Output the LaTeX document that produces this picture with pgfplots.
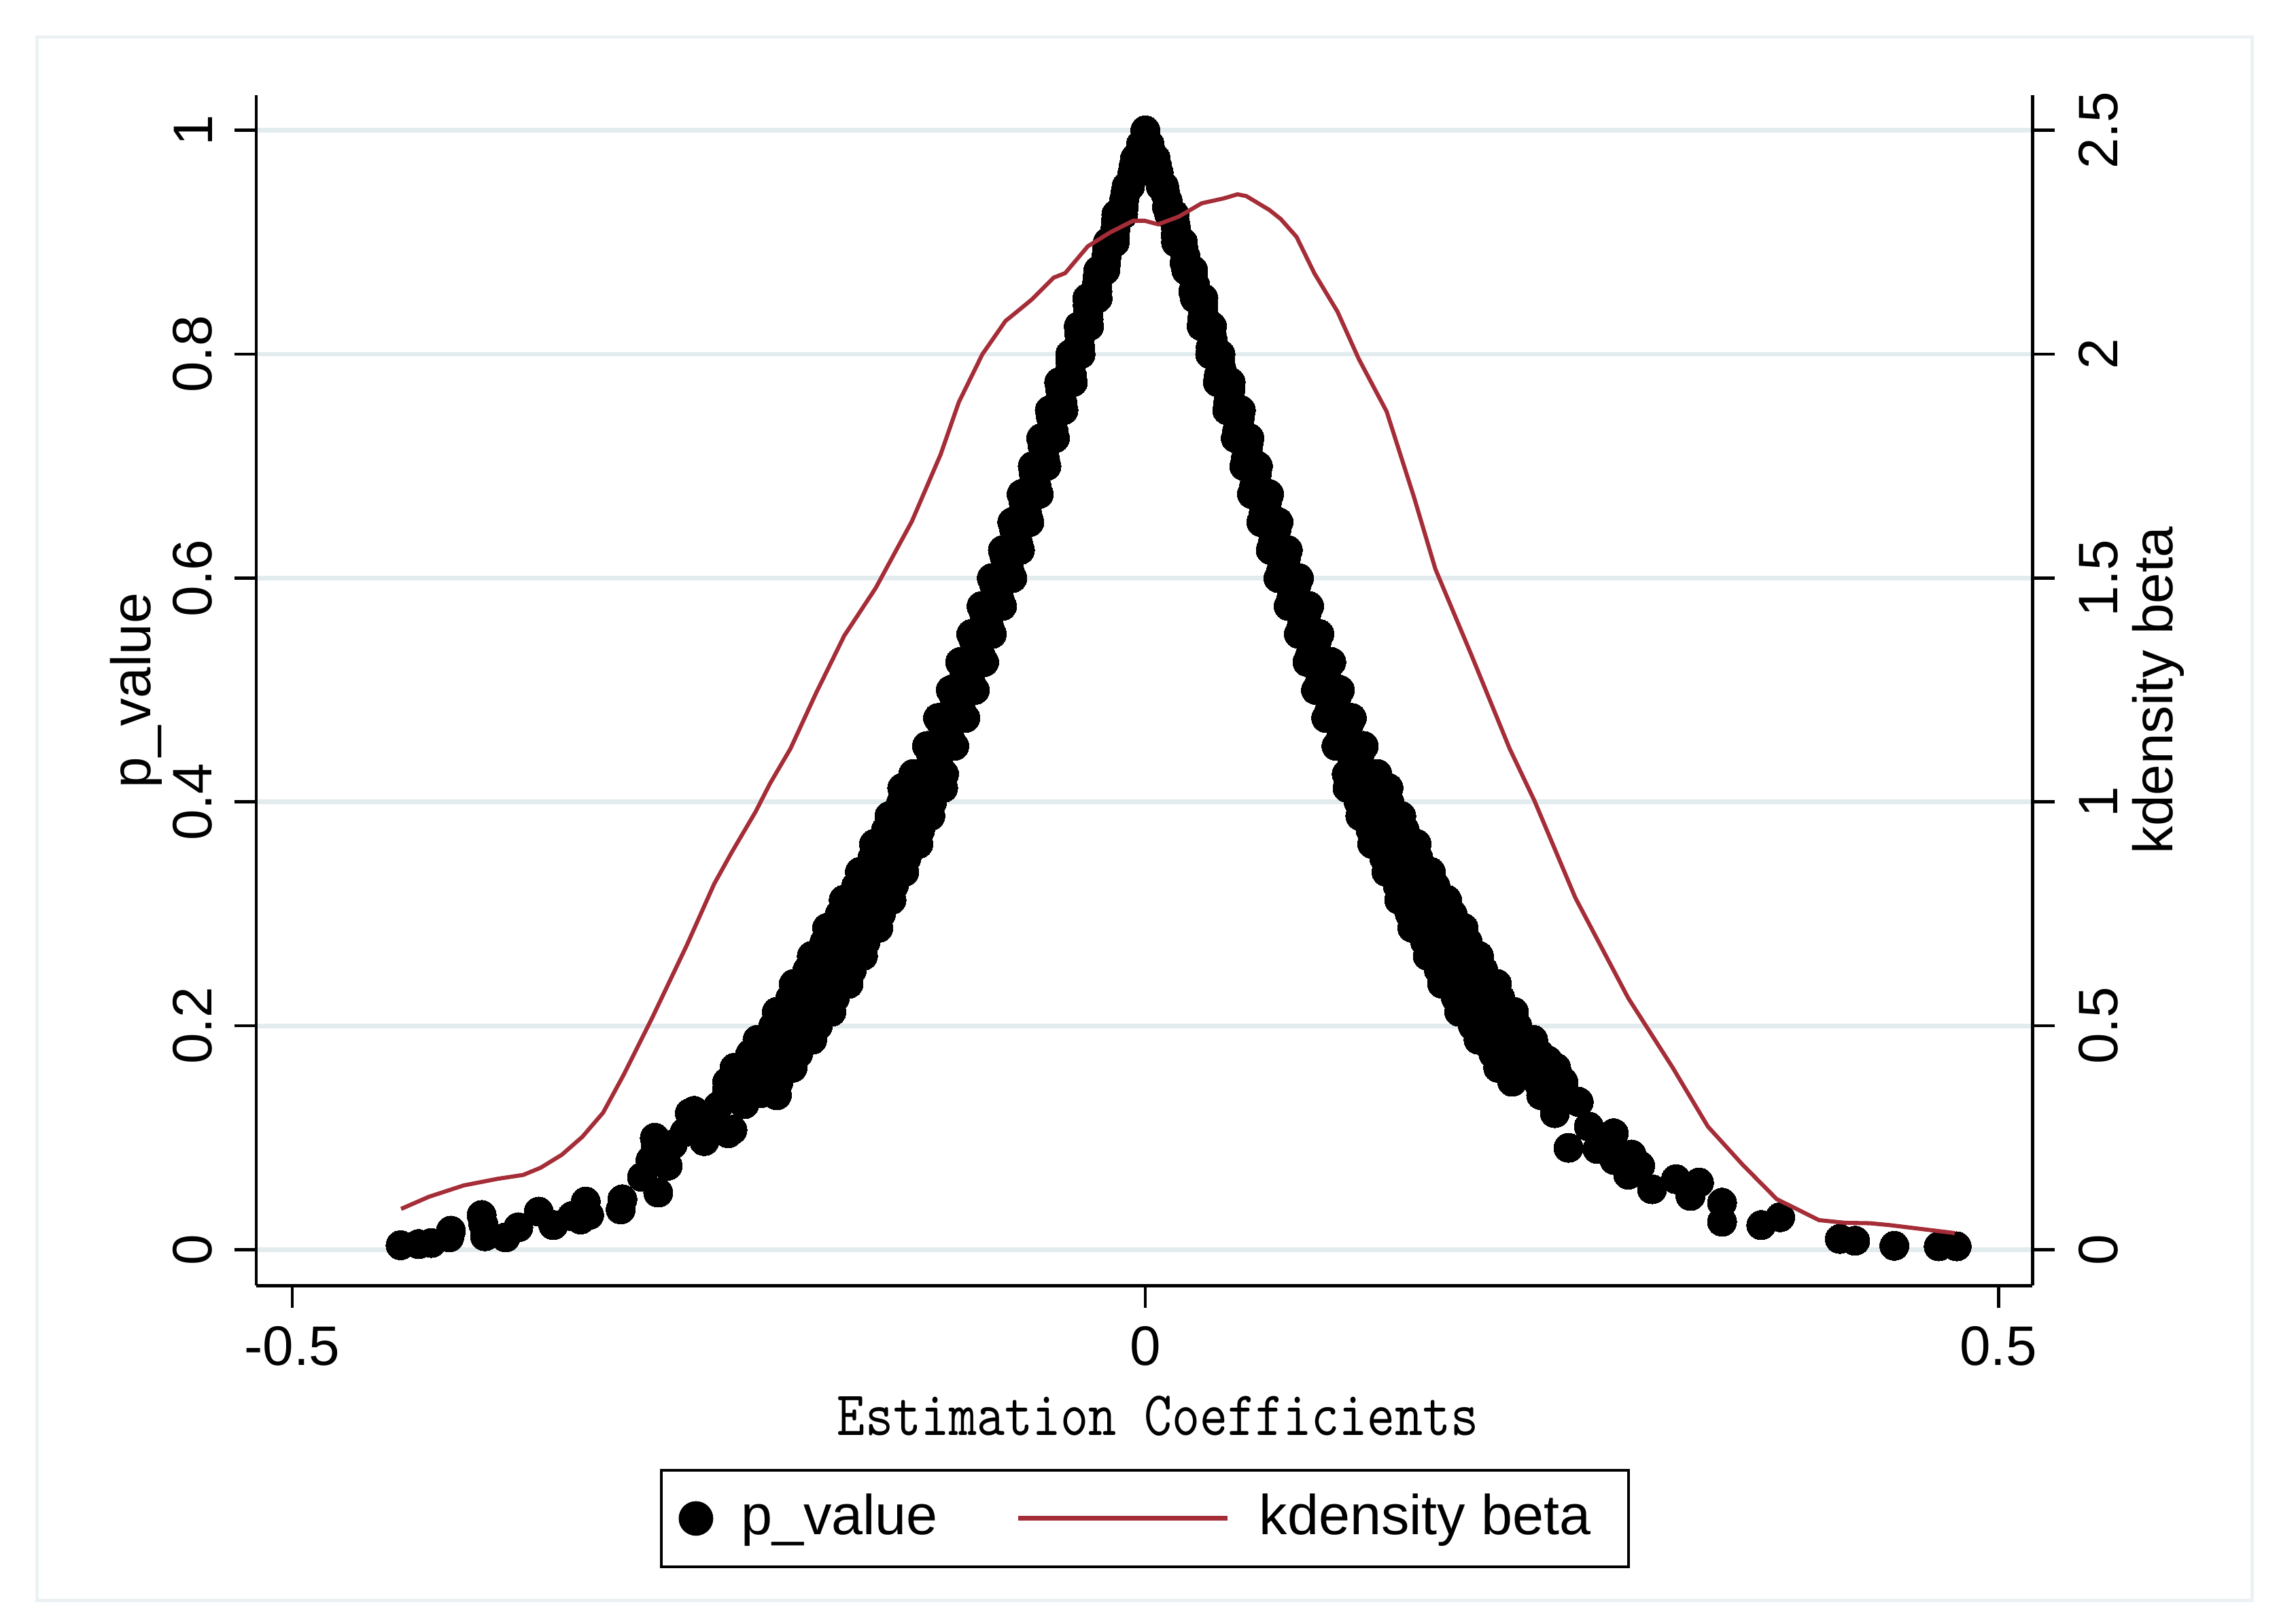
\documentclass[border=0pt]{standalone}
\usepackage{fontspec}
\setmainfont{Liberation Sans}
\usepackage{graphicx}
\usepackage{pgfplots}
\pgfplotsset{compat=1.18}
\definecolor{kd}{RGB}{165,45,55}
\definecolor{gridc}{RGB}{226,236,239}
\definecolor{framec}{RGB}{236,242,244}
\pgfplotsset{
 dotlegend/.style={legend image code/.code={\draw[##1] plot coordinates {(2.7pt,0pt)};}},
 linelegend/.style={legend image code/.code={\draw[##1, line width=0.8pt] (0pt,0pt) -- (35.75pt,0pt);}},
}
\begin{document}
\begin{tikzpicture}
\path[use as bounding box] (-43.75pt,-55.5pt) rectangle (348.25pt,219.5pt);
\draw[framec, line width=0.6pt] (-37.4pt,-53.75pt) rectangle (340.75pt,213.15pt);
\begin{axis}[
 at={(0pt,0pt)}, anchor=south west,
 scale only axis, width=303.25pt, height=203.25pt,
 xmin=-0.5211, xmax=0.5199, ymin=-0.0322, ymax=1.0314,
 axis lines*=left,
 axis line style={line width=0.55pt, black},
 tick align=outside, major tick length=3.75pt,
 tick style={line width=0.55pt, black},
 xtick={-0.5,0,0.5}, xticklabels={-0.5,0,0.5},
 ytick={0,0.2,0.4,0.6,0.8,1}, yticklabels={0,0.2,0.4,0.6,0.8,1},
 ymajorgrids, major grid style={gridc, line width=0.8pt},
 ticklabel style={font=\fontsize{9.5}{11}\selectfont},
 xticklabel style={anchor=north, inner sep=0pt},
 xticklabel shift=3pt,
 yticklabel style={rotate=90, anchor=south, inner sep=0pt},
 yticklabel shift=3.5pt,
 xlabel={\scalebox{0.84}[1]{\fontsize{10.8}{13}\selectfont\ttfamily Estimation Coefficients}},
 xlabel style={at={(axis description cs:0.5078,-0.1255)}, anchor=base, inner sep=0pt},
 ylabel={p\_value},
 ylabel style={at={(axis description cs:-0.0594,0.5)}, anchor=base, inner sep=0pt, font=\fontsize{9.5}{11}\selectfont},
]
\addplot[only marks, mark=*, mark size=2.5pt, black, mark options={fill=black, draw=black, line width=0pt}] coordinates {
(0,1)
(-0.0025,0.9875)
(-0.004,0.975) (-0.006,0.975)
(-0.0075,0.9625)
(-0.009,0.95) (-0.011,0.95)
(-0.0125,0.9375)
(-0.013,0.925) (-0.017,0.925)
(-0.0175,0.9125)
(-0.018,0.9) (-0.022,0.9)
(-0.0228,0.8875)
(-0.0235,0.875) (-0.0275,0.875)
(-0.0283,0.8625)
(-0.028,0.85) (-0.034,0.85)
(-0.0335,0.8375)
(-0.033,0.825) (-0.039,0.825)
(-0.0385,0.8125)
(-0.038,0.8) (-0.044,0.8)
(-0.0438,0.7875)
(-0.0425,0.775) (-0.0505,0.775)
(-0.0493,0.7625)
(-0.048,0.75) (-0.056,0.75)
(-0.0545,0.7375)
(-0.053,0.725) (-0.061,0.725)
(-0.0595,0.7125)
(-0.058,0.7) (-0.066,0.7)
(-0.0648,0.6875)
(-0.0625,0.675) (-0.0725,0.675)
(-0.0703,0.6625)
(-0.068,0.65) (-0.078,0.65)
(-0.0758,0.6375)
(-0.0735,0.625) (-0.0835,0.625)
(-0.0813,0.6125)
(-0.078,0.6) (-0.09,0.6)
(-0.087,0.5875)
(-0.084,0.575) (-0.096,0.575)
(-0.093,0.5625)
(-0.09,0.55) (-0.102,0.55)
(-0.0988,0.5375)
(-0.0945,0.525) (-0.1085,0.525)
(-0.1043,0.5125)
(-0.1,0.5) (-0.114,0.5)
(-0.1103,0.4875)
(-0.1055,0.475) (-0.1215,0.475)
(-0.1168,0.4625)
(-0.112,0.45) (-0.128,0.45)
(-0.1235,0.4375)
(-0.118,0.425) (-0.136,0.425)
(-0.1305,0.4125)
(-0.125,0.4) (-0.143,0.4)
(-0.138,0.3875)
(-0.132,0.375) (-0.152,0.375)
(-0.146,0.3625)
(-0.14,0.35) (-0.16,0.35)
(-0.1543,0.3375)
(-0.1475,0.325) (-0.1695,0.325)
(-0.1628,0.3125)
(-0.155,0.3) (-0.179,0.3)
(-0.1715,0.2875)
(-0.164,0.275) (-0.188,0.275)
(-0.1805,0.2625)
(-0.172,0.25) (-0.198,0.25)
(-0.19,0.2375)
(-0.182,0.225) (-0.208,0.225)
(-0.2,0.2125)
(-0.192,0.2) (-0.218,0.2)
(-0.2113,0.1875)
(-0.2035,0.175) (-0.2315,0.175)
(-0.2238,0.1625)
(-0.215,0.15) (-0.245,0.15)
(-0.00675,0.96875) (-0.00325,0.98125) (-0.0117,0.94375) (-0.0082,0.95625)
(-0.0173,0.91875) (-0.0127,0.93125) (-0.0224,0.89375) (-0.0178,0.90625)
(-0.0279,0.86875) (-0.0231,0.88125) (-0.0338,0.84375) (-0.0281,0.85625)
(-0.0388,0.81875) (-0.0333,0.83125) (-0.0439,0.79375) (-0.0383,0.80625)
(-0.0499,0.76875) (-0.0431,0.78125) (-0.0553,0.74375) (-0.0486,0.75625)
(-0.0603,0.71875) (-0.0538,0.73125) (-0.0654,0.69375) (-0.0588,0.70625)
(-0.0714,0.66875) (-0.0636,0.68125) (-0.0769,0.64375) (-0.0691,0.65625)
(-0.0824,0.61875) (-0.0746,0.63125) (-0.0885,0.59375) (-0.0796,0.60625)
(-0.0945,0.56875) (-0.0855,0.58125) (-0.1004,0.54375) (-0.0915,0.55625)
(-0.1064,0.51875) (-0.0966,0.53125) (-0.1121,0.49375) (-0.1022,0.50625)
(-0.1191,0.46875) (-0.1079,0.48125) (-0.1258,0.44375) (-0.1144,0.45625)
(-0.1333,0.41875) (-0.1208,0.43125) (-0.1405,0.39375) (-0.1278,0.40625)
(-0.149,0.36875) (-0.135,0.38125) (-0.1571,0.34375) (-0.143,0.35625)
(-0.1661,0.31875) (-0.1509,0.33125) (-0.1753,0.29375) (-0.1589,0.30625)
(-0.1843,0.26875) (-0.1678,0.28125) (-0.194,0.24375) (-0.1762,0.25625)
(-0.204,0.21875) (-0.186,0.23125) (-0.2146,0.19375) (-0.196,0.20625)
(-0.2276,0.16875) (-0.2074,0.18125) (-0.245,0.14375) (-0.2194,0.15625)
(-0.1185,0.4125) (-0.1425,0.4125) (-0.126,0.3875) (-0.15,0.3875)
(-0.133,0.3625) (-0.159,0.3625) (-0.1413,0.3375) (-0.1673,0.3375)
(-0.1488,0.3125) (-0.1768,0.3125) (-0.1565,0.2875) (-0.1865,0.2875)
(-0.1655,0.2625) (-0.1955,0.2625) (-0.174,0.2375) (-0.206,0.2375)
(-0.184,0.2125) (-0.216,0.2125) (-0.1953,0.1875) (-0.2273,0.1875)
(-0.2068,0.1625) (-0.2408,0.1625)
(-0.134,0.4) (-0.142,0.375) (-0.15,0.35) (-0.1585,0.325) (-0.167,0.3)
(-0.176,0.275) (-0.185,0.25) (-0.195,0.225) (-0.205,0.2) (-0.2175,0.175) (-0.23,0.15)
(-0.24,0.156) (-0.228,0.169) (-0.216,0.138) (-0.225,0.14) (-0.235,0.13)
(-0.2505,0.128) (-0.267,0.122) (-0.2645,0.124) (-0.242,0.107) (-0.2445,0.104)
(-0.255,0.115) (-0.2585,0.097) (-0.27,0.105) (-0.277,0.094) (-0.287,0.094)
(-0.2875,0.1) (-0.28,0.075) (-0.29,0.08) (-0.295,0.065) (-0.2855,0.051)
(-0.3075,0.036) (-0.3065,0.045) (-0.326,0.031) (-0.328,0.043) (-0.331,0.027)
(-0.336,0.03) (-0.347,0.022) (-0.3555,0.034) (-0.3675,0.02) (-0.375,0.011)
(-0.387,0.012) (-0.389,0.031) (-0.388,0.023) (-0.407,0.017) (-0.408,0.011)
(-0.4185,0.006) (-0.426,0.005) (-0.4365,0.004)
(0.0025,0.9875)
(0.004,0.975) (0.006,0.975)
(0.0078,0.9625)
(0.009,0.95) (0.011,0.95)
(0.013,0.9375)
(0.014,0.925) (0.017,0.925)
(0.018,0.9125)
(0.018,0.9) (0.022,0.9)
(0.0235,0.8875)
(0.024,0.875) (0.028,0.875)
(0.029,0.8625)
(0.029,0.85) (0.034,0.85)
(0.034,0.8375)
(0.033,0.825) (0.039,0.825)
(0.0395,0.8125)
(0.038,0.8) (0.044,0.8)
(0.0445,0.7875)
(0.0425,0.775) (0.05,0.775)
(0.049,0.7625)
(0.048,0.75) (0.056,0.75)
(0.055,0.7375)
(0.053,0.725) (0.061,0.725)
(0.06,0.7125)
(0.058,0.7) (0.066,0.7)
(0.065,0.6875)
(0.0625,0.675) (0.0725,0.675)
(0.071,0.6625)
(0.068,0.65) (0.078,0.65)
(0.076,0.6375)
(0.0735,0.625) (0.0835,0.625)
(0.082,0.6125)
(0.078,0.6) (0.09,0.6)
(0.0875,0.5875)
(0.084,0.575) (0.096,0.575)
(0.0935,0.5625)
(0.09,0.55) (0.102,0.55)
(0.099,0.5375)
(0.095,0.525) (0.109,0.525)
(0.105,0.5125)
(0.1,0.5) (0.114,0.5)
(0.111,0.4875)
(0.106,0.475) (0.121,0.475)
(0.117,0.4625)
(0.112,0.45) (0.128,0.45)
(0.124,0.4375)
(0.118,0.425) (0.136,0.425)
(0.131,0.4125)
(0.125,0.4) (0.143,0.4)
(0.138,0.3875)
(0.132,0.375) (0.152,0.375)
(0.147,0.3625)
(0.14,0.35) (0.16,0.35)
(0.155,0.3375)
(0.148,0.325) (0.17,0.325)
(0.163,0.3125)
(0.155,0.3) (0.18,0.3)
(0.172,0.2875)
(0.164,0.275) (0.189,0.275)
(0.181,0.2625)
(0.172,0.25) (0.198,0.25)
(0.19,0.2375)
(0.182,0.225) (0.208,0.225)
(0.2,0.2125)
(0.192,0.2) (0.218,0.2)
(0.211,0.1875)
(0.204,0.175) (0.231,0.175)
(0.224,0.1625)
(0.215,0.15) (0.245,0.15)
(0.00675,0.96875) (0.00325,0.98125) (0.0117,0.94375) (0.0082,0.95625)
(0.0173,0.91875) (0.0127,0.93125) (0.0224,0.89375) (0.0178,0.90625)
(0.0279,0.86875) (0.0231,0.88125) (0.0338,0.84375) (0.0281,0.85625)
(0.0388,0.81875) (0.0333,0.83125) (0.0439,0.79375) (0.0383,0.80625)
(0.0499,0.76875) (0.0431,0.78125) (0.0553,0.74375) (0.0486,0.75625)
(0.0603,0.71875) (0.0538,0.73125) (0.0654,0.69375) (0.0588,0.70625)
(0.0714,0.66875) (0.0636,0.68125) (0.0769,0.64375) (0.0691,0.65625)
(0.0824,0.61875) (0.0746,0.63125) (0.0885,0.59375) (0.0796,0.60625)
(0.0945,0.56875) (0.0855,0.58125) (0.1004,0.54375) (0.0915,0.55625)
(0.1064,0.51875) (0.0966,0.53125) (0.1121,0.49375) (0.1022,0.50625)
(0.1191,0.46875) (0.1079,0.48125) (0.1258,0.44375) (0.1144,0.45625)
(0.1333,0.41875) (0.1208,0.43125) (0.1405,0.39375) (0.1278,0.40625)
(0.149,0.36875) (0.135,0.38125) (0.1571,0.34375) (0.143,0.35625)
(0.1661,0.31875) (0.1509,0.33125) (0.1753,0.29375) (0.1589,0.30625)
(0.1843,0.26875) (0.1678,0.28125) (0.194,0.24375) (0.1762,0.25625)
(0.204,0.21875) (0.186,0.23125) (0.2146,0.19375) (0.196,0.20625)
(0.2276,0.16875) (0.2074,0.18125) (0.245,0.14375) (0.2194,0.15625)
(0.1185,0.4125) (0.1425,0.4125) (0.126,0.3875) (0.15,0.3875)
(0.133,0.3625) (0.159,0.3625) (0.1413,0.3375) (0.1673,0.3375)
(0.1488,0.3125) (0.1768,0.3125) (0.1565,0.2875) (0.1865,0.2875)
(0.1655,0.2625) (0.1955,0.2625) (0.174,0.2375) (0.206,0.2375)
(0.184,0.2125) (0.216,0.2125) (0.1953,0.1875) (0.2273,0.1875)
(0.2068,0.1625) (0.2408,0.1625)
(0.134,0.4) (0.142,0.375) (0.15,0.35) (0.1585,0.325) (0.167,0.3)
(0.176,0.275) (0.185,0.25) (0.195,0.225) (0.205,0.2) (0.2175,0.175) (0.23,0.15)
(0.236,0.169) (0.22,0.156) (0.232,0.138) (0.254,0.132) (0.24,0.122)
(0.26,0.11) (0.2745,0.104) (0.248,0.091) (0.265,0.09) (0.285,0.085)
(0.29,0.075) (0.283,0.067) (0.275,0.08) (0.297,0.054) (0.311,0.063)
(0.3245,0.06) (0.3195,0.048) (0.338,0.042) (0.338,0.025) (0.361,0.022)
(0.372,0.029) (0.407,0.0096) (0.416,0.008) (0.439,0.0035) (0.465,0.003)
(0.4755,0.003)
};
\end{axis}
\begin{axis}[
 at={(0pt,0pt)}, anchor=south west,
 scale only axis, width=303.25pt, height=203.25pt,
 xmin=-0.5211, xmax=0.5199, ymin=-0.0805, ymax=2.5785,
 axis x line=none,
 axis y line*=right,
 axis line style={line width=0.55pt, black},
 tick align=outside, major tick length=3.75pt,
 tick style={line width=0.55pt, black},
 ytick={0,0.5,1,1.5,2,2.5}, yticklabels={0,0.5,1,1.5,2,2.5},
 ticklabel style={font=\fontsize{9.5}{11}\selectfont},
 yticklabel style={rotate=90, anchor=north, inner sep=0pt},
 yticklabel shift=4pt,
 ylabel={kdensity beta},
 ylabel style={at={(axis description cs:1.0791,0.5)}, anchor=base, inner sep=0pt, font=\fontsize{9.5}{11}\selectfont},
 legend columns=2,
 legend style={at={(axis description cs:0.5004,-0.1538)}, anchor=north, draw=black, line width=0.5pt, fill=white,
   font=\fontsize{9.6}{11.5}\selectfont, inner xsep=3.2pt, inner ysep=0.7pt, nodes={inner sep=3.3pt},
   /tikz/every even column/.append style={column sep=10pt},
   /tikz/every odd column/.append style={column sep=1.7pt}},
]
\addlegendimage{only marks, mark=*, mark size=2.7pt, black, mark options={fill=black}, dotlegend}
\addlegendentry{p\_value}
\addplot[kd, line width=0.7pt, linelegend] coordinates {
(-0.4362,0.091) (-0.42,0.118) (-0.3995,0.1435) (-0.38,0.158) (-0.3646,0.167)
(-0.3544,0.183) (-0.342,0.212) (-0.33,0.252) (-0.3178,0.306) (-0.3057,0.391)
(-0.2894,0.515) (-0.269,0.678) (-0.2527,0.817) (-0.2425,0.887) (-0.2283,0.979)
(-0.22,1.041) (-0.208,1.119) (-0.193,1.243) (-0.1765,1.371) (-0.158,1.478)
(-0.1368,1.627) (-0.12,1.776) (-0.1093,1.893) (-0.0955,2.0) (-0.082,2.074)
(-0.0736,2.1) (-0.0666,2.122) (-0.0537,2.171) (-0.047,2.181) (-0.0337,2.241)
(-0.0206,2.272) (-0.0071,2.298) (-0.0005,2.298) (0.0075,2.29) (0.0195,2.307)
(0.033,2.337) (0.046,2.348) (0.054,2.357) (0.0592,2.353) (0.0727,2.322)
(0.0793,2.302) (0.0886,2.262) (0.099,2.181) (0.1126,2.095) (0.125,1.99)
(0.1414,1.872) (0.1575,1.68) (0.17,1.52) (0.191,1.329) (0.2135,1.119)
(0.228,1.003) (0.252,0.786) (0.283,0.562) (0.309,0.407) (0.3297,0.275)
(0.35,0.19) (0.37,0.113) (0.3948,0.066) (0.41,0.06) (0.425,0.059)
(0.437,0.0545) (0.4744,0.037)
};
\addlegendentry{kdensity beta}
\end{axis}
\end{tikzpicture}
\end{document}
